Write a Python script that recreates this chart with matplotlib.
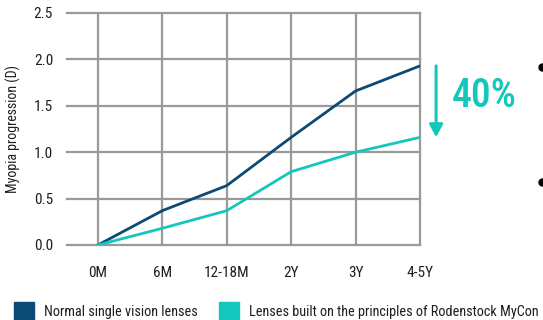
import numpy as np
from matplotlib import pyplot as plt

# progression per follow-up visit, dioptres
periods = ["0M", "6M", "12-18M", "2Y", "3Y", "4-5Y"]
single_vision = [0.0, 0.37, 0.64, 1.16, 1.66, 1.93]
mycon = [0.0, 0.18, 0.37, 0.79, 1.00, 1.16]
y_ticks = [0.0, 0.5, 1.0, 1.5, 2.0, 2.5]
reduction_label = "40%"

navy = "#0b4a74"
teal = "#12c7bb"
grid_grey = "#9a9a9a"
text_col = "#1e1e1e"

plt.rcParams["font.family"] = ["Roboto Condensed", "DejaVu Sans"]

fig = plt.figure(figsize=(5.43, 3.2), dpi=100)
ax = fig.add_axes([67 / 543, 75 / 320, 353 / 543, 232 / 320])

x = np.arange(len(periods))
ax.plot(x, single_vision, color=navy, lw=2, zorder=3, solid_capstyle="round")
ax.plot(x, mycon, color=teal, lw=2, zorder=3, solid_capstyle="round")

ax.set_xlim(-0.48, len(periods) - 1)
ax.set_ylim(0, 2.5)
ax.set_xticks(x)
ax.set_xticklabels(periods)
ax.set_yticks(y_ticks)
ax.set_yticklabels(["{:.1f}".format(v) for v in y_ticks])
ax.tick_params(length=0, labelsize=11, colors=text_col)
ax.tick_params(axis="x", pad=15)
ax.tick_params(axis="y", pad=10)
for s in ax.spines.values():
    s.set_visible(False)

for v in y_ticks:
    ax.axhline(v, color=grid_grey, lw=1.6, zorder=1, clip_on=False)
for xi in x:
    ax.axvline(xi, color=grid_grey, lw=1.6, zorder=1, clip_on=False)

ax.set_ylabel("Myopia progression (D)", fontsize=10, color=text_col, labelpad=9)

# reduction arrow between the two end points
ax.annotate("", xy=(5.25, mycon[-1]), xytext=(5.25, single_vision[-1]),
            xycoords="data", annotation_clip=False,
            arrowprops=dict(arrowstyle="-|>,head_length=0.75,head_width=0.4",
                            color=teal, lw=2.2, shrinkA=0, shrinkB=0))
ax.text(5.49, 1.61, reduction_label, color=teal, fontsize=28.5, fontweight="medium",
        ha="left", va="center", clip_on=False)

# bullets of the side text
ax.plot([542 / 543, 542 / 543], [1 - 67 / 320, 1 - 182 / 320], "o", color="black",
        ms=5, transform=fig.transFigure, clip_on=False)

# legend
fig.patches.append(plt.Rectangle((14 / 543, -2 / 320), 20 / 543, 20 / 320,
                                 transform=fig.transFigure, color=navy))
fig.text(44 / 543, 8 / 320, "Normal single vision lenses", fontsize=10.3,
         color=text_col, va="center")
fig.patches.append(plt.Rectangle((219 / 543, -2 / 320), 20 / 543, 20 / 320,
                                 transform=fig.transFigure, color=teal))
fig.text(249 / 543, 8 / 320, "Lenses built on the principles of Rodenstock MyCon",
         fontsize=10.3, color=text_col, va="center")

fig.savefig("out.png", dpi=100)
